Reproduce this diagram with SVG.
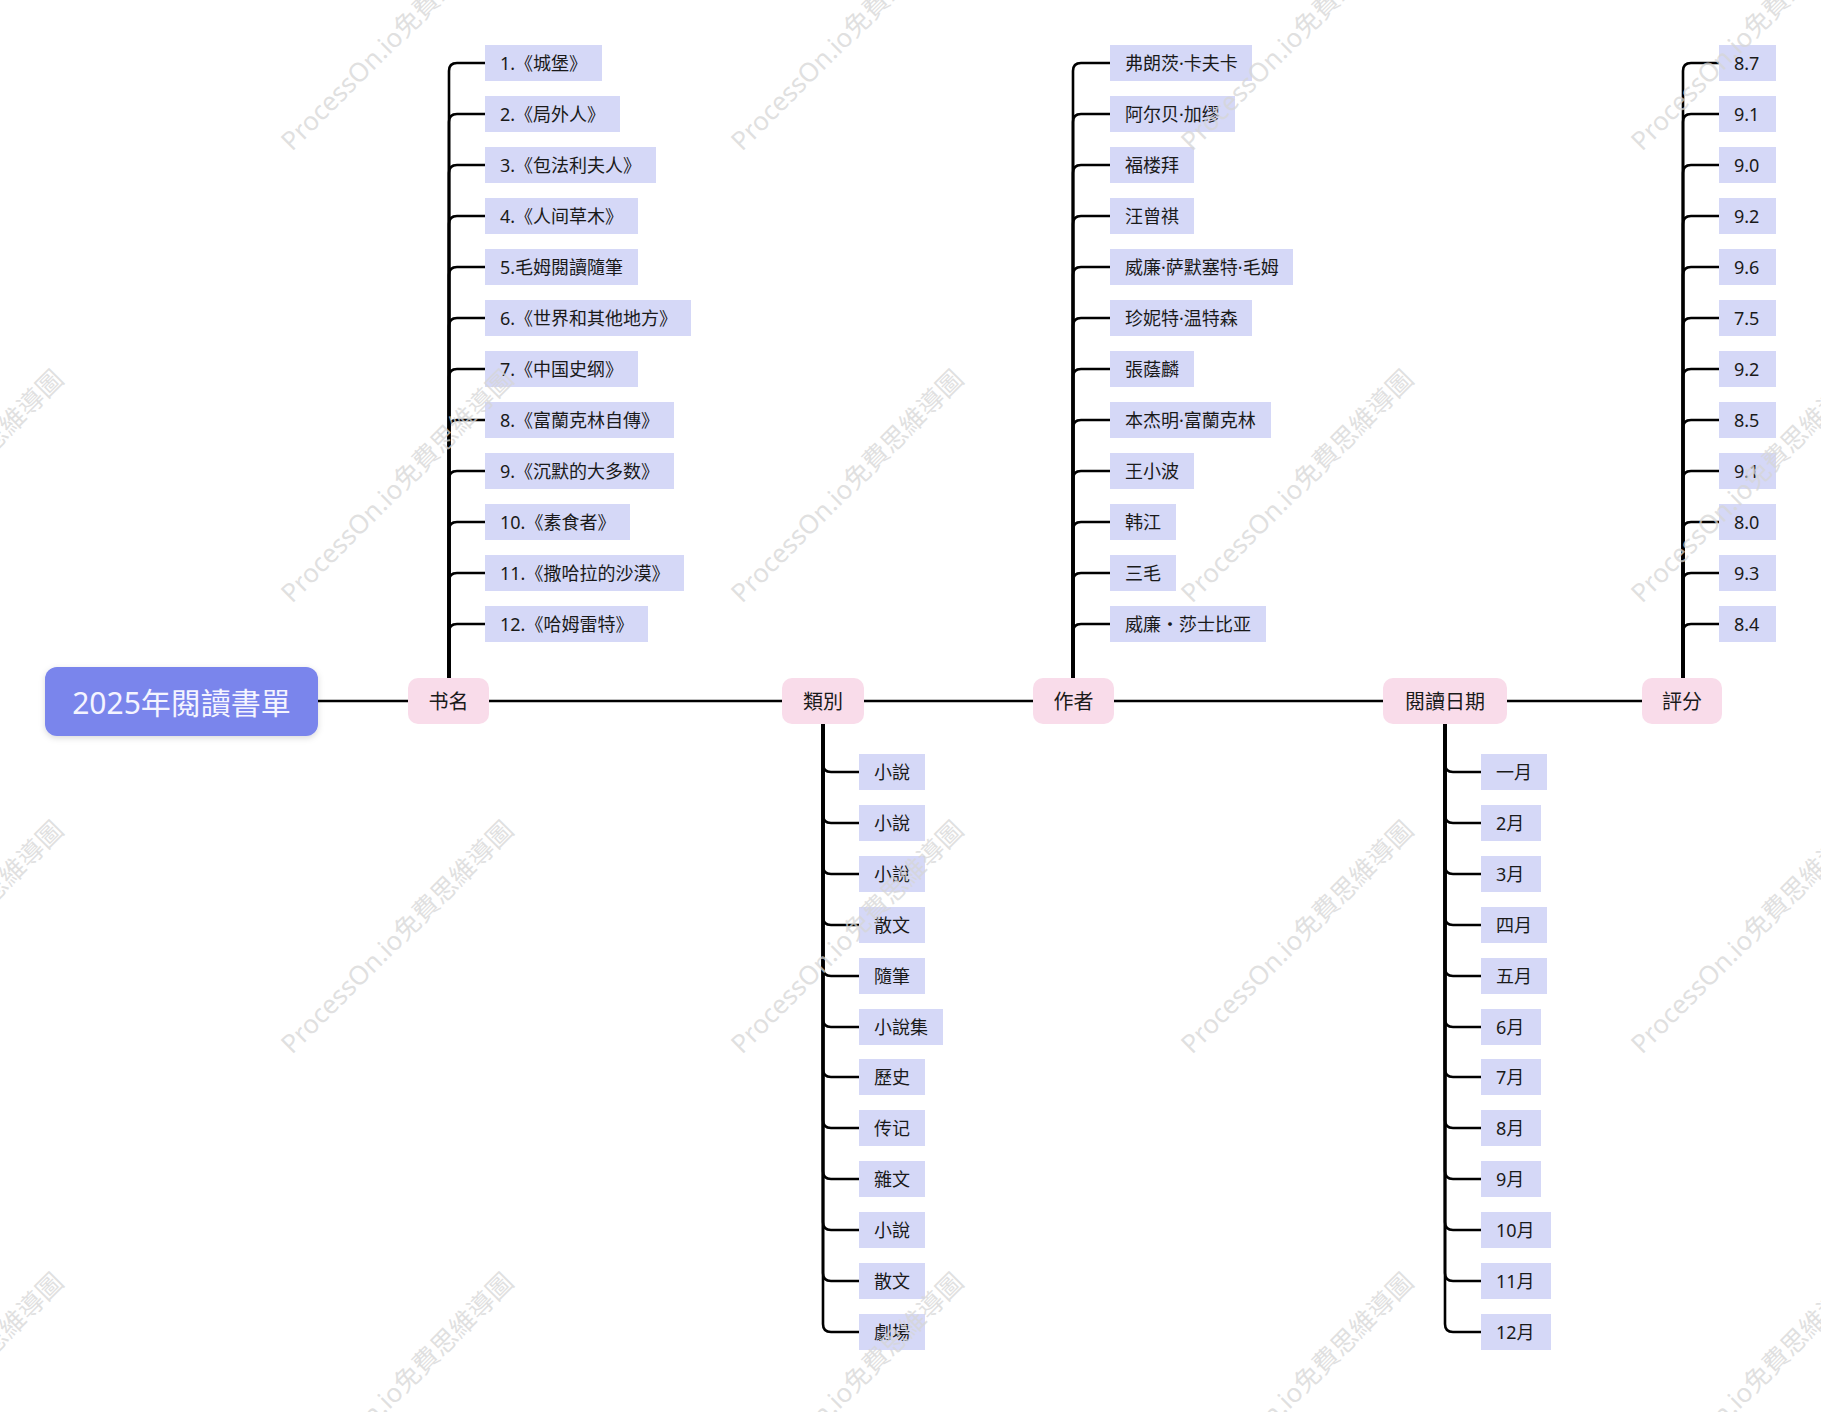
<svg xmlns="http://www.w3.org/2000/svg" width="1821" height="1412" viewBox="0 0 1821 1412">
<style>
text{font-family:"Noto Sans","Noto Sans CJK SC","Noto Sans CJK TC",sans-serif;dominant-baseline:central}
.leaf rect{fill:#D5D8F7}
.leaf text{font-size:18px;fill:#1a1a1a}
.topic rect{fill:#F9DCEA}
.topic text{font-size:20px;fill:#1a1a1a;text-anchor:middle}
.root rect{fill:#7A85EC}
.root text{font-size:30px;fill:#F4F4FF;text-anchor:middle}
#connectors path,#connectors line{fill:none;stroke:#000;stroke-width:2.6;stroke-linecap:round}
.wm{font-size:26px;fill:#d6d6d6;fill-opacity:0.75}
</style>
<defs>
<filter id="sh" x="-10%" y="-20%" width="120%" height="150%"><feDropShadow dx="0" dy="2" stdDeviation="3" flood-color="#000" flood-opacity="0.15"/></filter>
</defs>
<rect width="1821" height="1412" fill="#fff"/>

<g id="connectors">
<line x1="318" y1="701" x2="408" y2="701"/>
<line x1="489" y1="701" x2="782" y2="701"/>
<line x1="864" y1="701" x2="1033" y2="701"/>
<line x1="1114" y1="701" x2="1383" y2="701"/>
<line x1="1507" y1="701" x2="1642" y2="701"/>
<!-- 书名 -->
<path d="M449,678 V71 Q449,63 457,63 H485"/>
<path d="M449,678 V122 Q449,114 457,114 H485"/>
<path d="M449,678 V173 Q449,165 457,165 H485"/>
<path d="M449,678 V224 Q449,216 457,216 H485"/>
<path d="M449,678 V275 Q449,267 457,267 H485"/>
<path d="M449,678 V326 Q449,318 457,318 H485"/>
<path d="M449,678 V377 Q449,369 457,369 H485"/>
<path d="M449,678 V428 Q449,420 457,420 H485"/>
<path d="M449,678 V479 Q449,471 457,471 H485"/>
<path d="M449,678 V530 Q449,522 457,522 H485"/>
<path d="M449,678 V581 Q449,573 457,573 H485"/>
<path d="M449,678 V632 Q449,624 457,624 H485"/>
<!-- 作者 -->
<path d="M1073,678 V71 Q1073,63 1081,63 H1110"/>
<path d="M1073,678 V122 Q1073,114 1081,114 H1110"/>
<path d="M1073,678 V173 Q1073,165 1081,165 H1110"/>
<path d="M1073,678 V224 Q1073,216 1081,216 H1110"/>
<path d="M1073,678 V275 Q1073,267 1081,267 H1110"/>
<path d="M1073,678 V326 Q1073,318 1081,318 H1110"/>
<path d="M1073,678 V377 Q1073,369 1081,369 H1110"/>
<path d="M1073,678 V428 Q1073,420 1081,420 H1110"/>
<path d="M1073,678 V479 Q1073,471 1081,471 H1110"/>
<path d="M1073,678 V530 Q1073,522 1081,522 H1110"/>
<path d="M1073,678 V581 Q1073,573 1081,573 H1110"/>
<path d="M1073,678 V632 Q1073,624 1081,624 H1110"/>
<!-- 評分 -->
<path d="M1683,678 V71 Q1683,63 1691,63 H1719"/>
<path d="M1683,678 V122 Q1683,114 1691,114 H1719"/>
<path d="M1683,678 V173 Q1683,165 1691,165 H1719"/>
<path d="M1683,678 V224 Q1683,216 1691,216 H1719"/>
<path d="M1683,678 V275 Q1683,267 1691,267 H1719"/>
<path d="M1683,678 V326 Q1683,318 1691,318 H1719"/>
<path d="M1683,678 V377 Q1683,369 1691,369 H1719"/>
<path d="M1683,678 V428 Q1683,420 1691,420 H1719"/>
<path d="M1683,678 V479 Q1683,471 1691,471 H1719"/>
<path d="M1683,678 V530 Q1683,522 1691,522 H1719"/>
<path d="M1683,678 V581 Q1683,573 1691,573 H1719"/>
<path d="M1683,678 V632 Q1683,624 1691,624 H1719"/>
<!-- 類別 -->
<path d="M823,724 V764 Q823,772 831,772 H859"/>
<path d="M823,724 V815 Q823,823 831,823 H859"/>
<path d="M823,724 V866 Q823,874 831,874 H859"/>
<path d="M823,724 V917 Q823,925 831,925 H859"/>
<path d="M823,724 V968 Q823,976 831,976 H859"/>
<path d="M823,724 V1019 Q823,1027 831,1027 H859"/>
<path d="M823,724 V1069 Q823,1077 831,1077 H859"/>
<path d="M823,724 V1120 Q823,1128 831,1128 H859"/>
<path d="M823,724 V1171 Q823,1179 831,1179 H859"/>
<path d="M823,724 V1222 Q823,1230 831,1230 H859"/>
<path d="M823,724 V1273 Q823,1281 831,1281 H859"/>
<path d="M823,724 V1324 Q823,1332 831,1332 H859"/>
<!-- 閱讀日期 -->
<path d="M1445,724 V764 Q1445,772 1453,772 H1481"/>
<path d="M1445,724 V815 Q1445,823 1453,823 H1481"/>
<path d="M1445,724 V866 Q1445,874 1453,874 H1481"/>
<path d="M1445,724 V917 Q1445,925 1453,925 H1481"/>
<path d="M1445,724 V968 Q1445,976 1453,976 H1481"/>
<path d="M1445,724 V1019 Q1445,1027 1453,1027 H1481"/>
<path d="M1445,724 V1069 Q1445,1077 1453,1077 H1481"/>
<path d="M1445,724 V1120 Q1445,1128 1453,1128 H1481"/>
<path d="M1445,724 V1171 Q1445,1179 1453,1179 H1481"/>
<path d="M1445,724 V1222 Q1445,1230 1453,1230 H1481"/>
<path d="M1445,724 V1273 Q1445,1281 1453,1281 H1481"/>
<path d="M1445,724 V1324 Q1445,1332 1453,1332 H1481"/>
</g>

<g id="root" class="root"><rect x="45" y="667" width="273" height="69" rx="12" filter="url(#sh)"/><text x="181.5" y="702">2025年閱讀書單</text></g>

<g id="topic-shuming" class="topic"><rect x="408" y="678" width="81" height="46" rx="10"/><text x="448.5" y="701">书名</text></g>
<g id="topic-leibie" class="topic"><rect x="782" y="678" width="82" height="46" rx="10"/><text x="823" y="701">類別</text></g>
<g id="topic-zuozhe" class="topic"><rect x="1033" y="678" width="81" height="46" rx="10"/><text x="1073.5" y="701">作者</text></g>
<g id="topic-riqi" class="topic"><rect x="1383" y="678" width="124" height="46" rx="10"/><text x="1445" y="701">閱讀日期</text></g>
<g id="topic-pingfen" class="topic"><rect x="1642" y="678" width="80" height="46" rx="10"/><text x="1682" y="701">評分</text></g>

<!-- 书名 leaves -->
<g id="book-1" class="leaf"><rect x="485" y="45" width="117" height="36"/><text x="500" y="63">1.《城堡》</text></g>
<g id="book-2" class="leaf"><rect x="485" y="96" width="135" height="36"/><text x="500" y="114">2.《局外人》</text></g>
<g id="book-3" class="leaf"><rect x="485" y="147" width="171" height="36"/><text x="500" y="165">3.《包法利夫人》</text></g>
<g id="book-4" class="leaf"><rect x="485" y="198" width="153" height="36"/><text x="500" y="216">4.《人间草木》</text></g>
<g id="book-5" class="leaf"><rect x="485" y="249" width="153" height="36"/><text x="500" y="267">5.毛姆閱讀隨筆</text></g>
<g id="book-6" class="leaf"><rect x="485" y="300" width="206" height="36"/><text x="500" y="318">6.《世界和其他地方》</text></g>
<g id="book-7" class="leaf"><rect x="485" y="351" width="153" height="36"/><text x="500" y="369">7.《中国史纲》</text></g>
<g id="book-8" class="leaf"><rect x="485" y="402" width="189" height="36"/><text x="500" y="420">8.《富蘭克林自傳》</text></g>
<g id="book-9" class="leaf"><rect x="485" y="453" width="189" height="36"/><text x="500" y="471">9.《沉默的大多数》</text></g>
<g id="book-10" class="leaf"><rect x="485" y="504" width="145" height="36"/><text x="500" y="522">10.《素食者》</text></g>
<g id="book-11" class="leaf"><rect x="485" y="555" width="199" height="36"/><text x="500" y="573">11.《撒哈拉的沙漠》</text></g>
<g id="book-12" class="leaf"><rect x="485" y="606" width="163" height="36"/><text x="500" y="624">12.《哈姆雷特》</text></g>

<!-- 作者 leaves -->
<g id="author-1" class="leaf"><rect x="1110" y="45" width="142" height="36"/><text x="1125" y="63">弗朗茨·卡夫卡</text></g>
<g id="author-2" class="leaf"><rect x="1110" y="96" width="125" height="36"/><text x="1125" y="114">阿尔贝·加缪</text></g>
<g id="author-3" class="leaf"><rect x="1110" y="147" width="84" height="36"/><text x="1125" y="165">福楼拜</text></g>
<g id="author-4" class="leaf"><rect x="1110" y="198" width="84" height="36"/><text x="1125" y="216">汪曾祺</text></g>
<g id="author-5" class="leaf"><rect x="1110" y="249" width="183" height="36"/><text x="1125" y="267">威廉·萨默塞特·毛姆</text></g>
<g id="author-6" class="leaf"><rect x="1110" y="300" width="142" height="36"/><text x="1125" y="318">珍妮特·温特森</text></g>
<g id="author-7" class="leaf"><rect x="1110" y="351" width="84" height="36"/><text x="1125" y="369">張蔭麟</text></g>
<g id="author-8" class="leaf"><rect x="1110" y="402" width="161" height="36"/><text x="1125" y="420">本杰明·富蘭克林</text></g>
<g id="author-9" class="leaf"><rect x="1110" y="453" width="84" height="36"/><text x="1125" y="471">王小波</text></g>
<g id="author-10" class="leaf"><rect x="1110" y="504" width="66" height="36"/><text x="1125" y="522">韩江</text></g>
<g id="author-11" class="leaf"><rect x="1110" y="555" width="66" height="36"/><text x="1125" y="573">三毛</text></g>
<g id="author-12" class="leaf"><rect x="1110" y="606" width="156" height="36"/><text x="1125" y="624">威廉・莎士比亚</text></g>

<!-- 評分 leaves -->
<g id="score-1" class="leaf"><rect x="1719" y="45" width="57" height="36"/><text x="1734" y="63">8.7</text></g>
<g id="score-2" class="leaf"><rect x="1719" y="96" width="57" height="36"/><text x="1734" y="114">9.1</text></g>
<g id="score-3" class="leaf"><rect x="1719" y="147" width="57" height="36"/><text x="1734" y="165">9.0</text></g>
<g id="score-4" class="leaf"><rect x="1719" y="198" width="57" height="36"/><text x="1734" y="216">9.2</text></g>
<g id="score-5" class="leaf"><rect x="1719" y="249" width="57" height="36"/><text x="1734" y="267">9.6</text></g>
<g id="score-6" class="leaf"><rect x="1719" y="300" width="57" height="36"/><text x="1734" y="318">7.5</text></g>
<g id="score-7" class="leaf"><rect x="1719" y="351" width="57" height="36"/><text x="1734" y="369">9.2</text></g>
<g id="score-8" class="leaf"><rect x="1719" y="402" width="57" height="36"/><text x="1734" y="420">8.5</text></g>
<g id="score-9" class="leaf"><rect x="1719" y="453" width="57" height="36"/><text x="1734" y="471">9.1</text></g>
<g id="score-10" class="leaf"><rect x="1719" y="504" width="57" height="36"/><text x="1734" y="522">8.0</text></g>
<g id="score-11" class="leaf"><rect x="1719" y="555" width="57" height="36"/><text x="1734" y="573">9.3</text></g>
<g id="score-12" class="leaf"><rect x="1719" y="606" width="57" height="36"/><text x="1734" y="624">8.4</text></g>

<!-- 類別 leaves -->
<g id="genre-1" class="leaf"><rect x="859" y="754" width="66" height="36"/><text x="874" y="772">小說</text></g>
<g id="genre-2" class="leaf"><rect x="859" y="805" width="66" height="36"/><text x="874" y="823">小說</text></g>
<g id="genre-3" class="leaf"><rect x="859" y="856" width="66" height="36"/><text x="874" y="874">小說</text></g>
<g id="genre-4" class="leaf"><rect x="859" y="907" width="66" height="36"/><text x="874" y="925">散文</text></g>
<g id="genre-5" class="leaf"><rect x="859" y="958" width="66" height="36"/><text x="874" y="976">隨筆</text></g>
<g id="genre-6" class="leaf"><rect x="859" y="1009" width="84" height="36"/><text x="874" y="1027">小說集</text></g>
<g id="genre-7" class="leaf"><rect x="859" y="1059" width="66" height="36"/><text x="874" y="1077">歷史</text></g>
<g id="genre-8" class="leaf"><rect x="859" y="1110" width="66" height="36"/><text x="874" y="1128">传记</text></g>
<g id="genre-9" class="leaf"><rect x="859" y="1161" width="66" height="36"/><text x="874" y="1179">雜文</text></g>
<g id="genre-10" class="leaf"><rect x="859" y="1212" width="66" height="36"/><text x="874" y="1230">小說</text></g>
<g id="genre-11" class="leaf"><rect x="859" y="1263" width="66" height="36"/><text x="874" y="1281">散文</text></g>
<g id="genre-12" class="leaf"><rect x="859" y="1314" width="66" height="36"/><text x="874" y="1332">劇場</text></g>

<!-- 閱讀日期 leaves -->
<g id="date-1" class="leaf"><rect x="1481" y="754" width="66" height="36"/><text x="1496" y="772">一月</text></g>
<g id="date-2" class="leaf"><rect x="1481" y="805" width="60" height="36"/><text x="1496" y="823">2月</text></g>
<g id="date-3" class="leaf"><rect x="1481" y="856" width="60" height="36"/><text x="1496" y="874">3月</text></g>
<g id="date-4" class="leaf"><rect x="1481" y="907" width="66" height="36"/><text x="1496" y="925">四月</text></g>
<g id="date-5" class="leaf"><rect x="1481" y="958" width="66" height="36"/><text x="1496" y="976">五月</text></g>
<g id="date-6" class="leaf"><rect x="1481" y="1009" width="60" height="36"/><text x="1496" y="1027">6月</text></g>
<g id="date-7" class="leaf"><rect x="1481" y="1059" width="60" height="36"/><text x="1496" y="1077">7月</text></g>
<g id="date-8" class="leaf"><rect x="1481" y="1110" width="60" height="36"/><text x="1496" y="1128">8月</text></g>
<g id="date-9" class="leaf"><rect x="1481" y="1161" width="60" height="36"/><text x="1496" y="1179">9月</text></g>
<g id="date-10" class="leaf"><rect x="1481" y="1212" width="70" height="36"/><text x="1496" y="1230">10月</text></g>
<g id="date-11" class="leaf"><rect x="1481" y="1263" width="70" height="36"/><text x="1496" y="1281">11月</text></g>
<g id="date-12" class="leaf"><rect x="1481" y="1314" width="70" height="36"/><text x="1496" y="1332">12月</text></g>

<g id="watermarks" class="wm">
<text transform="translate(-165,597) rotate(-45)">ProcessOn.io免費思維導圖</text>
<text transform="translate(-165,1048) rotate(-45)">ProcessOn.io免費思維導圖</text>
<text transform="translate(-165,1500) rotate(-45)">ProcessOn.io免費思維導圖</text>
<text transform="translate(285,145) rotate(-45)">ProcessOn.io免費思維導圖</text>
<text transform="translate(285,597) rotate(-45)">ProcessOn.io免費思維導圖</text>
<text transform="translate(285,1048) rotate(-45)">ProcessOn.io免費思維導圖</text>
<text transform="translate(285,1500) rotate(-45)">ProcessOn.io免費思維導圖</text>
<text transform="translate(735,145) rotate(-45)">ProcessOn.io免費思維導圖</text>
<text transform="translate(735,597) rotate(-45)">ProcessOn.io免費思維導圖</text>
<text transform="translate(735,1048) rotate(-45)">ProcessOn.io免費思維導圖</text>
<text transform="translate(735,1500) rotate(-45)">ProcessOn.io免費思維導圖</text>
<text transform="translate(1185,145) rotate(-45)">ProcessOn.io免費思維導圖</text>
<text transform="translate(1185,597) rotate(-45)">ProcessOn.io免費思維導圖</text>
<text transform="translate(1185,1048) rotate(-45)">ProcessOn.io免費思維導圖</text>
<text transform="translate(1185,1500) rotate(-45)">ProcessOn.io免費思維導圖</text>
<text transform="translate(1635,145) rotate(-45)">ProcessOn.io免費思維導圖</text>
<text transform="translate(1635,597) rotate(-45)">ProcessOn.io免費思維導圖</text>
<text transform="translate(1635,1048) rotate(-45)">ProcessOn.io免費思維導圖</text>
<text transform="translate(1635,1500) rotate(-45)">ProcessOn.io免費思維導圖</text>
</g>
</svg>
